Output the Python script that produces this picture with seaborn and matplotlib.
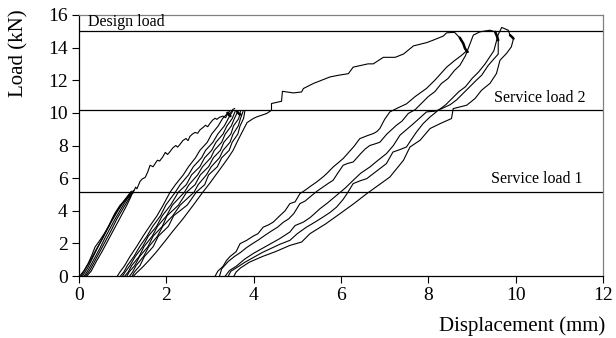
import matplotlib
matplotlib.use("Agg")
import matplotlib.pyplot as plt
import pandas as pd
import seaborn as sns

# ---------------- data (displacement mm, load kN) ----------------
# cycles to service load 1
g1a_x = [0.02, 0.12, 0.21, 0.30, 0.37, 0.48, 0.58, 0.67, 0.75, 0.82, 0.94, 1.05, 1.15, 1.24]
g1a_y = [0.0, 0.35, 0.76, 1.30, 1.78, 2.19, 2.60, 3.00, 3.45, 3.83, 4.33, 4.64, 4.85, 5.10]
g1b_x = [0.08, 0.20, 0.33, 0.45, 0.55, 0.66, 0.78, 0.90, 1.00, 1.10, 1.20]
g1b_y = [0.0, 0.50, 1.20, 1.85, 2.35, 2.95, 3.55, 4.10, 4.50, 4.85, 5.20]
g1c_x = [0.12, 0.22, 0.35, 0.48, 0.60, 0.72, 0.83, 0.95, 1.05, 1.15, 1.22]
g1c_y = [0.0, 0.40, 1.05, 1.70, 2.35, 2.95, 3.50, 4.05, 4.50, 4.90, 5.20]
g1d_x = [0.15, 0.25, 0.38, 0.50, 0.62, 0.75, 0.86, 0.98, 1.08, 1.17, 1.23]
g1d_y = [0.0, 0.35, 1.00, 1.60, 2.20, 2.85, 3.45, 4.00, 4.45, 4.85, 5.15]
g1e_x = [0.18, 0.28, 0.40, 0.53, 0.66, 0.78, 0.90, 1.00, 1.10, 1.18, 1.25]
g1e_y = [0.0, 0.30, 0.90, 1.50, 2.15, 2.75, 3.35, 3.85, 4.35, 4.80, 5.25]
g1f_x = [0.05, 0.15, 0.26, 0.40, 0.52, 0.63, 0.76, 0.88, 0.99, 1.10, 1.19]
g1f_y = [0.0, 0.45, 0.95, 1.65, 2.20, 2.75, 3.40, 3.95, 4.40, 4.80, 5.12]

# first loading from service load 1 to service load 2
v1_x = [1.24, 1.30, 1.33, 1.40, 1.45, 1.52, 1.58, 1.63, 1.70, 1.76, 1.80, 1.85, 1.92, 1.98,
        2.03, 2.08, 2.15, 2.22, 2.26, 2.31, 2.38, 2.45, 2.50, 2.54, 2.60, 2.66, 2.72, 2.77,
        2.84, 2.90, 2.95, 3.00, 3.06, 3.12, 3.16, 3.22, 3.30, 3.36, 3.42, 3.46, 3.52, 3.57]
v1_y = [5.10, 5.45, 5.35, 5.80, 5.95, 6.05, 6.40, 6.79, 6.70, 6.95, 7.10, 7.05, 7.30, 7.58,
        7.45, 7.60, 7.85, 8.00, 7.90, 8.05, 8.30, 8.43, 8.30, 8.55, 8.70, 8.80, 8.75, 8.95,
        9.10, 9.24, 9.15, 9.35, 9.55, 9.67, 9.60, 9.73, 9.80, 9.70, 10.03, 9.95, 10.20, 10.27]

# cycles to service load 2
g2_y = [0.0, 0.25, 0.65, 1.20, 1.80, 2.45, 3.05, 3.70, 4.35, 5.15, 5.60, 6.20, 6.70, 7.25, 7.70, 8.20, 8.70, 9.20, 9.65, 10.10]
g2a_x = [0.88, 0.94, 1.05, 1.17, 1.32, 1.47, 1.62, 1.79, 1.93, 2.09, 2.21, 2.39, 2.51, 2.67, 2.77, 2.94, 3.04, 3.19, 3.29, 3.45]
g2b_x = [0.95, 1.03, 1.11, 1.26, 1.39, 1.56, 1.69, 1.87, 1.99, 2.21, 2.32, 2.51, 2.62, 2.81, 2.90, 3.07, 3.18, 3.33, 3.42, 3.52]
g2c_x = [1.00, 1.06, 1.17, 1.29, 1.46, 1.59, 1.78, 1.91, 2.10, 2.28, 2.46, 2.58, 2.77, 2.88, 3.04, 3.14, 3.30, 3.39, 3.51, 3.58]
g2d_x = [1.05, 1.13, 1.21, 1.38, 1.49, 1.68, 1.80, 2.01, 2.14, 2.42, 2.52, 2.72, 2.83, 3.02, 3.10, 3.27, 3.35, 3.49, 3.56, 3.64]
g2e_x = [1.10, 1.15, 1.28, 1.39, 1.58, 1.70, 1.91, 2.02, 2.28, 2.47, 2.66, 2.78, 2.97, 3.08, 3.24, 3.32, 3.48, 3.54, 3.66, 3.70]
g2f_x = [1.16, 1.23, 1.31, 1.48, 1.60, 1.80, 1.92, 2.15, 2.32, 2.64, 2.73, 2.92, 3.03, 3.22, 3.30, 3.46, 3.53, 3.65, 3.70, 3.76]
g2g_x = [1.22, 1.27, 1.40, 1.50, 1.70, 1.82, 2.05, 2.17, 2.48, 2.69, 2.88, 2.97, 3.17, 3.27, 3.44, 3.51, 3.64, 3.69, 3.77, 3.80]

# last reload of service-load-2 cycles, continuing to the design load
v2_x = [1.25, 1.32, 1.44, 1.60, 1.78, 1.96, 2.15, 2.38, 2.62, 2.84, 3.00, 3.15, 3.30, 3.42, 3.53, 3.62, 3.72, 3.85, 3.99,
        4.07, 4.30, 4.41, 4.41, 4.64, 4.66, 4.91, 5.10, 5.14, 5.37, 5.56, 5.75, 5.94, 6.17, 6.28, 6.62, 6.74,
        6.97, 7.24, 7.43, 7.66, 7.96, 8.11, 8.34, 8.42, 8.60, 8.72, 8.80, 8.84, 8.90]
v2_y = [0.0, 0.20, 0.50, 0.95, 1.50, 2.10, 2.75, 3.50, 4.35, 5.15, 5.70, 6.25, 6.80, 7.25, 7.70, 8.20, 8.73, 9.40, 9.65,
        9.75, 9.96, 10.16, 10.57, 10.71, 11.32, 11.22, 11.28, 11.49, 11.80, 12.00, 12.20, 12.30, 12.40, 12.80, 13.00, 13.00,
        13.40, 13.40, 13.60, 14.10, 14.30, 14.45, 14.70, 14.90, 14.93, 14.60, 14.25, 13.94, 13.73]

# cycles to the design load
g3a_x = [3.12, 3.18, 3.30, 3.38, 3.46, 3.60, 3.69, 3.84, 3.99, 4.10, 4.22, 4.35, 4.45, 4.60, 4.72, 4.83, 4.95,
         5.06, 5.20, 5.30, 5.44, 5.60, 5.70, 5.82, 5.94, 6.05, 6.20, 6.30, 6.43, 6.60, 6.74, 6.82, 6.89, 7.00,
         7.12, 7.30, 7.50, 7.70, 7.96, 8.15, 8.42, 8.60, 8.75, 8.88]
g3a_y = [0.0, 0.30, 0.60, 0.96, 1.20, 1.50, 1.99, 2.19, 2.45, 2.60, 3.00, 3.15, 3.31, 3.70, 4.00, 4.44, 4.55,
         5.05, 5.30, 5.50, 5.76, 6.10, 6.35, 6.68, 6.95, 7.20, 7.65, 7.95, 8.42, 8.60, 8.73, 8.85, 9.04, 9.60,
         10.06, 10.30, 10.55, 11.00, 11.50, 12.00, 12.80, 13.20, 13.50, 13.80]
g3b_x = [3.22, 3.27, 3.42, 3.56, 3.70, 3.84, 3.98, 4.10, 4.26, 4.40, 4.55, 4.68, 4.80, 4.92, 5.06, 5.18, 5.29,
         5.45, 5.59, 5.72, 5.82, 5.95, 6.05, 6.15, 6.28, 6.45, 6.56, 6.66, 6.78, 6.89, 7.05, 7.27, 7.40, 7.54,
         7.70, 7.85, 8.00, 8.15, 8.30, 8.45, 8.60, 8.72, 8.85, 8.95, 9.03, 9.18, 9.41, 9.53, 9.60]
g3b_y = [0.0, 0.45, 0.90, 1.20, 1.45, 1.75, 2.00, 2.20, 2.50, 2.75, 3.00, 3.30, 3.50, 3.83, 4.44, 4.60, 4.85,
         5.20, 5.46, 5.70, 5.87, 6.40, 6.79, 6.90, 6.99, 7.50, 7.80, 8.00, 8.10, 8.20, 8.70, 9.24, 9.50, 9.96,
         10.20, 10.60, 11.00, 11.30, 11.80, 12.10, 12.60, 12.90, 13.50, 14.20, 14.76, 14.96, 15.06, 14.96, 14.45]
g3c_x = [9.60, 9.60, 9.50, 9.37, 9.22, 9.10, 8.95, 8.80, 8.65, 8.50, 8.30, 8.15, 7.96, 7.66, 7.35, 7.20, 7.04,
         6.85, 6.66, 6.45, 6.28, 6.10, 5.90, 5.70, 5.52, 5.30, 5.14, 4.95, 4.83, 4.60, 4.40, 4.20, 4.00, 3.80,
         3.60, 3.45, 3.35]
g3c_y = [14.45, 13.60, 13.30, 12.90, 12.30, 12.00, 11.60, 11.20, 10.80, 10.50, 10.25, 10.10, 10.06, 9.34, 8.63, 8.00, 7.50,
         7.10, 6.68, 6.30, 5.87, 5.40, 4.95, 4.50, 4.13, 3.60, 3.31, 3.10, 2.70, 2.30, 2.00, 1.70, 1.40, 1.05,
         0.60, 0.35, 0.0]
g3d_x = [3.42, 3.48, 3.60, 3.80, 4.00, 4.20, 4.40, 4.60, 4.83, 5.00, 5.21, 5.40, 5.59, 5.75, 5.90, 6.05, 6.15,
         6.28, 6.45, 6.59, 6.80, 7.04, 7.19, 7.35, 7.50, 7.62, 7.73, 7.88, 8.04, 8.20, 8.40, 8.55, 8.70, 8.85,
         9.00, 9.15, 9.30, 9.40, 9.50, 9.55, 9.60, 9.68, 9.83, 9.87, 9.95]
g3d_y = [0.0, 0.30, 0.50, 0.85, 1.15, 1.45, 1.70, 1.95, 2.19, 2.60, 3.00, 3.30, 3.62, 3.90, 4.23, 4.70, 5.10,
         5.67, 5.85, 5.97, 6.40, 6.89, 7.60, 7.75, 7.91, 8.40, 8.83, 9.34, 9.75, 10.10, 10.50, 10.90, 11.30, 11.60,
         12.10, 12.50, 13.00, 13.40, 13.80, 14.30, 14.80, 15.23, 15.06, 14.76, 14.55]
g3e_x = [9.95, 9.90, 9.79, 9.64, 9.56, 9.41, 9.22, 9.07, 8.88, 8.57, 8.53, 8.27, 8.04, 7.81, 7.58, 7.43, 7.28,
         7.12, 6.85, 6.59, 6.30, 5.98, 5.65, 5.29, 5.10, 4.83, 4.50, 4.20, 3.90, 3.70, 3.60, 3.55]
g3e_y = [14.55, 14.04, 13.64, 13.22, 12.41, 11.80, 11.39, 10.88, 10.47, 10.26, 9.65, 9.34, 9.04, 8.32, 7.91, 7.09, 6.60,
         6.07, 5.55, 5.05, 4.45, 3.83, 3.20, 2.60, 2.09, 1.88, 1.50, 1.20, 0.85, 0.50, 0.25, 0.0]

# short creep segments at load holds (drawn heavier)
hold1_x = [8.72, 8.80, 8.84, 8.90]
hold1_y = [14.60, 14.25, 13.94, 13.73]
hold2_x = [9.53, 9.57, 9.60]
hold2_y = [14.96, 14.70, 14.45]
hold3_x = [9.87, 9.91, 9.95]
hold3_y = [14.76, 14.66, 14.55]
hold4_x = [3.40, 3.44, 3.47]
hold4_y = [10.00, 9.85, 9.80]
hold5_x = [3.62, 3.66, 3.70]
hold5_y = [10.10, 9.95, 9.90]

# reference load levels
ref_loads = [15.0, 10.15, 5.15]
ref_labels = ["Design load", "Service load 2", "Service load 1"]

x_ticks = [0, 2, 4, 6, 8, 10, 12]
y_ticks = [0, 2, 4, 6, 8, 10, 12, 14, 16]

curves = {
    "g1a": (g1a_x, g1a_y), "g1b": (g1b_x, g1b_y), "g1c": (g1c_x, g1c_y),
    "g1d": (g1d_x, g1d_y), "g1e": (g1e_x, g1e_y), "g1f": (g1f_x, g1f_y),
    "v1": (v1_x, v1_y),
    "g2a": (g2a_x, g2_y), "g2b": (g2b_x, g2_y), "g2c": (g2c_x, g2_y),
    "g2d": (g2d_x, g2_y), "g2e": (g2e_x, g2_y), "g2f": (g2f_x, g2_y),
    "g2g": (g2g_x, g2_y),
    "v2": (v2_x, v2_y),
    "g3a": (g3a_x, g3a_y), "g3b": (g3b_x, g3b_y), "g3c": (g3c_x, g3c_y),
    "g3d": (g3d_x, g3d_y), "g3e": (g3e_x, g3e_y),
}
holds = {
    "h1": (hold1_x, hold1_y), "h2": (hold2_x, hold2_y), "h3": (hold3_x, hold3_y),
    "h4": (hold4_x, hold4_y), "h5": (hold5_x, hold5_y),
}


def to_frame(d):
    rows = []
    for name, (xs, ys) in d.items():
        for i, (a, b) in enumerate(zip(xs, ys)):
            rows.append((name, i, a, b))
    return pd.DataFrame(rows, columns=["curve", "order", "x", "y"])


df = to_frame(curves)
dh = to_frame(holds)

# ---------------- plot ----------------
sns.set_theme(style="white")
plt.rcParams["font.family"] = ["Liberation Serif", "DejaVu Serif"]

fig, ax = plt.subplots(figsize=(6.16, 3.38), dpi=100)
fig.subplots_adjust(left=0.128, right=0.979, top=0.956, bottom=0.183)

sns.lineplot(data=df, x="x", y="y", units="curve", estimator=None, sort=False,
             color="black", linewidth=0.8, ax=ax, legend=False)
sns.lineplot(data=dh, x="x", y="y", units="curve", estimator=None, sort=False,
             color="black", linewidth=1.8, ax=ax, legend=False)

for lv in ref_loads:
    ax.axhline(lv, color="black", linewidth=0.9, zorder=1)

ax.text(0.2, ref_loads[0] + 0.08, ref_labels[0], ha="left", va="bottom", fontsize=11.5, color="black")
ax.text(11.6, ref_loads[1] + 0.3, ref_labels[1], ha="right", va="bottom", fontsize=11.5, color="black")
ax.text(11.53, ref_loads[2] + 0.3, ref_labels[2], ha="right", va="bottom", fontsize=11.5, color="black")

ax.set_xlim(0, 12)
ax.set_ylim(0, 16)
ax.set_xticks(x_ticks)
ax.set_yticks(y_ticks)
ax.tick_params(axis="both", which="major", direction="out", length=5, width=0.8,
               labelsize=14, colors="black", bottom=True, left=True, pad=3)

for side in ["left", "bottom"]:
    ax.spines[side].set_color("black")
    ax.spines[side].set_linewidth(0.9)
for side in ["top", "right"]:
    ax.spines[side].set_color("#808080")
    ax.spines[side].set_linewidth(0.9)

ax.set_xlabel("Displacement (mm)", fontsize=15, color="black")
ax.set_ylabel("Load (kN)", fontsize=15, color="black")
ax.xaxis.set_label_coords(0.845, -0.155)
ax.yaxis.set_label_coords(-0.097, 0.855)

fig.savefig("out.png", dpi=100)
